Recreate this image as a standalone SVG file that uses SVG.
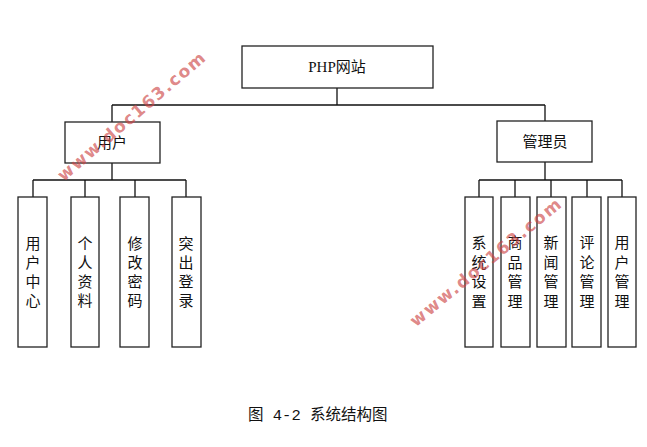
<svg xmlns="http://www.w3.org/2000/svg" width="647" height="447" viewBox="0 0 647 447">
<style>
.box{fill:#fff;stroke:#222;stroke-width:1.3}
.ln{stroke:#111;stroke-width:1.3;fill:none}
.t{font-family:"Liberation Serif","Noto Sans CJK SC",serif;font-size:15px;fill:#111;text-anchor:middle}
.v{font-family:"Noto Sans CJK SC",sans-serif;font-size:15px;fill:#111;text-anchor:middle}
.cap{font-family:"Liberation Mono","Noto Sans CJK SC",monospace;font-size:15.5px;fill:#111}
.wm{font-family:"DejaVu Sans",sans-serif;font-size:17px;font-weight:bold;fill:#c44;fill-opacity:0.65;text-anchor:middle}
</style>
<rect width="647" height="447" fill="#fff"/>
<g id="connectors" class="ln">
<path d="M337 88V105M112 105H545M112 105V122M545 105V121"/>
<path d="M112 163V180M33 180H186M33 180V197M85 180V197M135 180V197M186 180V197"/>
<path d="M545 162V180M479 180H622M479 180V197M515 180V197M551 180V197M587 180V197M622 180V197"/>
</g>
<g id="php"><rect class="box" x="242" y="46" width="191" height="42"/><text class="t" x="337" y="72">PHP<tspan font-family="Noto Sans CJK SC">网站</tspan></text></g>
<g id="user"><rect class="box" x="65" y="122" width="95" height="41"/><text class="v" x="112" y="148">用户</text></g>
<g id="admin"><rect class="box" x="497" y="121" width="95" height="41"/><text class="v" x="545" y="147">管理员</text></g>
<g id="u1"><rect class="box" x="18" y="197" width="29" height="150"/><text class="v" x="33" y="249">用<tspan x="33" dy="19">户</tspan><tspan x="33" dy="19">中</tspan><tspan x="33" dy="19">心</tspan></text></g>
<g id="u2"><rect class="box" x="71" y="197" width="28" height="150"/><text class="v" x="85" y="249">个<tspan x="85" dy="19">人</tspan><tspan x="85" dy="19">资</tspan><tspan x="85" dy="19">料</tspan></text></g>
<g id="u3"><rect class="box" x="120" y="197" width="29" height="150"/><text class="v" x="135" y="249">修<tspan x="135" dy="19">改</tspan><tspan x="135" dy="19">密</tspan><tspan x="135" dy="19">码</tspan></text></g>
<g id="u4"><rect class="box" x="172" y="197" width="29" height="150"/><text class="v" x="186" y="249">突<tspan x="186" dy="19">出</tspan><tspan x="186" dy="19">登</tspan><tspan x="186" dy="19">录</tspan></text></g>
<g id="a1"><rect class="box" x="465" y="197" width="28" height="150"/><text class="v" x="479" y="248">系<tspan x="479" dy="19.5">统</tspan><tspan x="479" dy="19.5">设</tspan><tspan x="479" dy="19.5">置</tspan></text></g>
<g id="a2"><rect class="box" x="501" y="197" width="29" height="150"/><text class="v" x="515" y="248">商<tspan x="515" dy="19.5">品</tspan><tspan x="515" dy="19.5">管</tspan><tspan x="515" dy="19.5">理</tspan></text></g>
<g id="a3"><rect class="box" x="537" y="197" width="29" height="150"/><text class="v" x="551" y="248">新<tspan x="551" dy="19.5">闻</tspan><tspan x="551" dy="19.5">管</tspan><tspan x="551" dy="19.5">理</tspan></text></g>
<g id="a4"><rect class="box" x="572" y="197" width="29" height="150"/><text class="v" x="587" y="248">评<tspan x="587" dy="19.5">论</tspan><tspan x="587" dy="19.5">管</tspan><tspan x="587" dy="19.5">理</tspan></text></g>
<g id="a5"><rect class="box" x="608" y="197" width="28" height="150"/><text class="v" x="622" y="248">用<tspan x="622" dy="19.5">户</tspan><tspan x="622" dy="19.5">管</tspan><tspan x="622" dy="19.5">理</tspan></text></g>
<text class="cap" x="248" y="420">图 4-2 系统结构图</text>
<text class="wm" transform="translate(135,121) rotate(-40.5)" textLength="188" lengthAdjust="spacing">www.doc163.com</text>
<text class="wm" transform="translate(489,267) rotate(-39.5)" textLength="190" lengthAdjust="spacing">www.doc163.com</text>
</svg>
